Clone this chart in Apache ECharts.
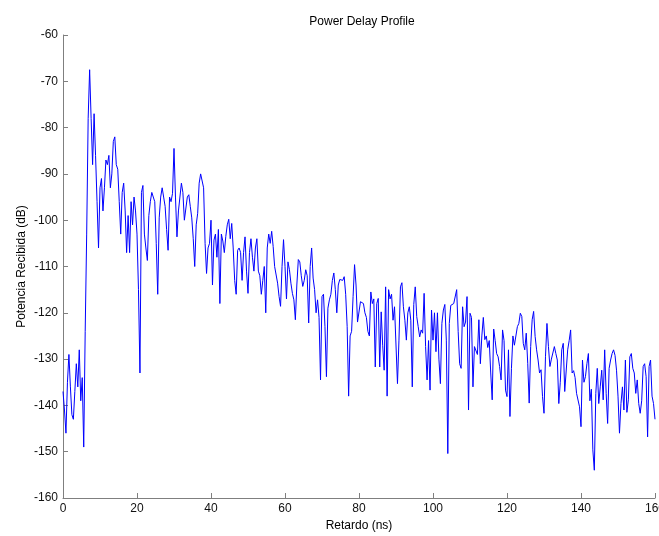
<!DOCTYPE html>
<html>
<head>
<meta charset="utf-8">
<script src="https://cdn.jsdelivr.net/npm/echarts@6/dist/echarts.min.js"></script>
<style>
html,body{margin:0;padding:0;background:#fff;}
#chart{width:659px;height:536px;}
</style>
</head>
<body>
<div id="chart"></div>
<script>
// Sampling of the delay axis (ns)
const delayStart = 0;
const delayStep = 0.4;

// Received power (dB), 0.0 .. 39.6 ns
const powerA = [
  -137,-141,-146,-135,-129,-136,-142,-143,-137,-131,
  -136,-128,-139,-134,-149,-124,-103,-78,-67.5,-78,
  -88,-77,-86,-96,-106,-93,-91,-98,-93,-87,
  -88,-86,-93,-90,-83,-82,-88,-89,-96,-103,
  -94,-92,-98,-107,-99,-107,-96,-101,-95,-98,
  -103,-115,-133,-94,-92.5,-103,-106,-108.7,-99,-96,
  -94,-93.6,-96,-105,-116,-99.5,-95,-93,-95,-97,
  -102,-106.5,-95,-96,-94.2,-84.5,-95,-103.6,-98,-98,
  -92,-94,-100,-100,-95,-94.5,-97,-99.5,-104,-110,
  -101,-98.5,-92,-90,-90,-93,-105,-111.5,-106,-105
];
// 40.0 .. 79.6 ns
const powerB = [
  -100,-114,-104.3,-103,-108,-102,-118,-103,-104.5,-107,
  -103.5,-101,-99.8,-104,-100.7,-106,-113,-116,-106.5,-106,
  -107,-113,-107,-103.6,-111,-115.8,-107,-104,-108,-111,
  -106,-104,-111,-112,-116,-113,-110,-120,-106,-103,
  -105,-102.4,-105.7,-110,-110,-113.6,-116.5,-118.6,-110,-104.2,
  -110,-117,-109,-110.7,-113.6,-115.8,-117.2,-121.5,-114,-108.5,
  -109,-112,-114.3,-113,-110.7,-112,-122.2,-110,-106,-112.5,
  -115,-120,-117.2,-121,-134.5,-116.5,-116,-123,-133.8,-119,
  -117.2,-116,-113,-111.4,-115,-120,-114,-112.8,-112.5,-113,
  -112.2,-116,-123,-138,-125,-124,-116.5,-109.6,-114,-122
];
// 80.0 .. 119.6 ns
const powerC = [
  -122,-117.6,-118,-118,-120,-121,-124,-125,-115.5,-118,
  -117,-131.7,-118,-116.9,-131.7,-119.8,-127,-132.4,-114.4,-138,
  -115,-117,-116,-121.6,-118.7,-118.7,-135.3,-125.9,-114.4,-113.5,
  -118.7,-121.6,-125.9,-120,-118.7,-121.6,-136,-118.2,-114.4,-120.8,
  -123,-125.2,-123.7,-124.4,-115.8,-127.3,-134.5,-126,-136.7,-119.4,
  -125.9,-120,-128.4,-120,-130,-135.3,-122.3,-119.4,-118.2,-125.9,
  -150.4,-122.3,-118.4,-118.7,-118,-117.6,-115,-124,-131,-132,
  -118.7,-123,-122,-116.5,-141,-120.1,-121,-136,-127.3,-127.3,
  -129,-121.5,-131,-125,-121,-125.8,-125,-127.5,-126,-133,
  -138.8,-123.5,-126,-128.8,-129.5,-131.6,-134.5,-123.7,-126,-136.7
];
// 120.0 .. 160.0 ns
const powerD = [
  -138.1,-128,-142.4,-132,-125,-127,-127.3,-123,-122.3,-120.1,
  -120.8,-126.6,-128,-124.4,-130.9,-139.5,-127.3,-121.5,-119.7,-125.1,
  -128,-130.2,-133,-132.3,-138.1,-141.7,-129.5,-122.3,-127.3,-131.6,
  -130,-130,-127.3,-128.8,-130.2,-139.6,-135,-128,-126.6,-137,
  -137.4,-128,-126,-123.7,-133,-132.5,-134,-137.4,-137.4,-140.3,
  -144.6,-130.2,-135,-133.8,-131,-128.8,-139,-136.5,-149.6,-154,
  -137.4,-132,-139.6,-136,-132.4,-138.8,-128,-137.4,-143.9,-132,
  -130.2,-128.8,-128,-129.2,-132.4,-138,-146,-139.6,-136,-141,
  -130.2,-141.5,-138.8,-129.5,-128.8,-132,-133,-137.4,-134.5,-139.6,
  -141.7,-139,-131.6,-131,-133.8,-146.8,-131.6,-130.2,-138,-139.6,
  -143
];

const titleText = 'Power Delay Profile';
const xName = 'Retardo (ns)';
const yName = 'Potencia Recibida (dB)';
const xTicks = {min: 0, max: 160, interval: 20};
const yTicks = {min: -160, max: -60, interval: 10};

const power = powerA.concat(powerB, powerC, powerD);
const points = power.map((v, i) => [delayStart + i * delayStep, v]);

const font = 'Liberation Sans, Arial, sans-serif';
const axisGray = '#7f7f7f';

const chart = echarts.init(document.getElementById('chart'), null, {renderer: 'canvas'});
chart.setOption({
  animation: false,
  backgroundColor: '#ffffff',
  title: {
    text: titleText,
    left: 357, top: 11,
    textAlign: 'center',
    textStyle: {fontFamily: font, fontSize: 12, fontWeight: 'normal', color: '#000'}
  },
  grid: {left: 63, right: 4, top: 35, bottom: 38, containLabel: false, outerBoundsMode: 'none'},
  xAxis: {
    type: 'value',
    min: xTicks.min, max: xTicks.max, interval: xTicks.interval,
    name: xName, nameLocation: 'middle', nameGap: 22, nameMoveOverlap: false,
    nameTextStyle: {fontFamily: font, fontSize: 12, color: '#000'},
    axisLine: {show: true, onZero: false, lineStyle: {color: axisGray, width: 1}},
    axisTick: {show: true, inside: true, length: 5, lineStyle: {color: axisGray}},
    axisLabel: {fontFamily: font, fontSize: 12, color: '#111', margin: 5},
    splitLine: {show: false}
  },
  yAxis: {
    type: 'value',
    min: yTicks.min, max: yTicks.max, interval: yTicks.interval,
    name: yName, nameLocation: 'middle', nameGap: 35, nameRotate: 90, nameMoveOverlap: false,
    nameTextStyle: {fontFamily: font, fontSize: 12, color: '#000'},
    axisLine: {show: true, onZero: false, lineStyle: {color: axisGray, width: 1}},
    axisTick: {show: true, inside: true, length: 5, lineStyle: {color: axisGray}},
    axisLabel: {fontFamily: font, fontSize: 12, color: '#111', margin: 5},
    splitLine: {show: false}
  },
  series: [{
    type: 'line',
    data: points,
    showSymbol: false,
    symbol: 'none',
    sampling: null,
    lineStyle: {color: '#0000ff', width: 1},
    z: 3
  }]
});
</script>
</body>
</html>
